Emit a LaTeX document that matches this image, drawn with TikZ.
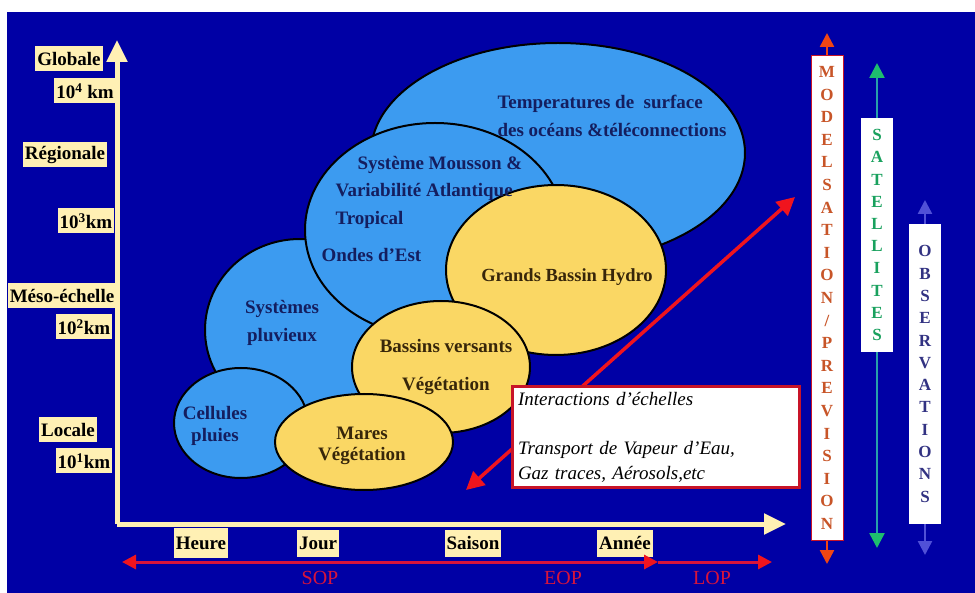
\documentclass[tikz,border=0pt]{standalone}
\usepackage{fontspec}
\setmainfont{Liberation Serif}
\usepackage{xcolor}
\usepackage{tikz}
\usetikzlibrary{arrows.meta, positioning}

\definecolor{nightblue}{RGB}{0,0,165}
\definecolor{cream}{RGB}{255,240,180}
\definecolor{zoneblue}{RGB}{60,155,240}
\definecolor{zonesand}{RGB}{250,215,100}
\definecolor{skyink}{RGB}{20,30,95}
\definecolor{sandink}{RGB}{55,38,10}
\definecolor{hotred}{RGB}{240,20,30}
\definecolor{phasered}{RGB}{215,20,60}
\definecolor{boxred}{RGB}{200,20,40}
\definecolor{modelred}{RGB}{240,70,20}
\definecolor{modelink}{RGB}{200,85,40}
\definecolor{satgreen}{RGB}{30,190,110}
\definecolor{satline}{RGB}{40,160,170}
\definecolor{obsblue}{RGB}{80,80,215}
\definecolor{obsink}{RGB}{50,50,130}

\begin{document}
\begin{tikzpicture}[x=1pt, y=-1pt,
    scalelbl/.style={fill=cream, text=black, inner sep=2pt, minimum height=25pt,
        font=\bfseries\fontsize{19}{22}\selectfont},
    skyzone/.style={fill=zoneblue, draw=black, line width=2pt},
    sandzone/.style={fill=zonesand, draw=black, line width=2pt},
    skytext/.style={text=skyink, font=\bfseries\fontsize{19}{27.5}\selectfont},
    sandtext/.style={text=sandink, font=\bfseries\fontsize{19}{21}\selectfont},
    axisline/.style={draw=cream, line width=5pt, line join=miter,
        -{Triangle[width=20pt,length=22pt]}},
    phase/.style={draw=phasered, line width=3pt, -{Triangle[width=14pt,length=14pt,color=hotred]}},
    phaselbl/.style={text=phasered, font=\fontsize{20}{22}\selectfont},
    colbox/.style={fill=white, inner sep=0pt, minimum width=32pt, align=center,
        font=\bfseries\fontsize{17}{22.6}\selectfont}]

    % Background
    \useasboundingbox (0,0) rectangle (975,593);
    \fill[white] (0,0) rectangle (975,593);
    \fill[nightblue] (7,12) rectangle (975,593);

    % Scale zones
    \filldraw[skyzone] (558,153) ellipse [x radius=187pt, y radius=110pt];
    \filldraw[skyzone] (300,330) ellipse [x radius=95pt, y radius=91pt];
    \filldraw[skyzone] (435,230) ellipse [x radius=130pt, y radius=107pt];
    \filldraw[sandzone] (556,270) ellipse [x radius=110pt, y radius=85pt];
    \filldraw[sandzone] (441,367) ellipse [x radius=89pt, y radius=66pt];
    \filldraw[skyzone] (241,423) ellipse [x radius=67pt, y radius=55pt];
    \filldraw[sandzone] (364,442) ellipse [x radius=89pt, y radius=48pt];

    % Zone labels
    \node[skytext, align=left, anchor=west] (oceans) at (494,116)
        {Temperatures de\ \ surface\\des océans \&téléconnections};
    \node[skytext, align=left, anchor=west] (mousson) at (332,192)
        {\hspace*{22pt}Système Mousson \&\\Variabilité Atlantique\\Tropical};
    \node[skytext, anchor=west] (ondes) at (318,255) {Ondes d'Est};
    \node[sandtext, font=\bfseries\fontsize{18.5}{21}\selectfont] (hydro) at (567,277) {Grands Bassin Hydro};
    \node[skytext, align=center] (pluvieux) at (282,323) {Systèmes\\pluvieux};
    \node[sandtext, align=center, font=\bfseries\fontsize{19}{38}\selectfont] (versants) at (446,367)
        {Bassins versants\\Végétation};
    \node[skytext, align=center, font=\bfseries\fontsize{19}{22}\selectfont] (cellules) at (215,426)
        {Cellules\\pluies};
    \node[sandtext, align=center] (mares) at (362,446) {Mares\\Végétation};

    % Interaction arrow and note
    \coordinate (small) at (466,490);
    \coordinate (large) at (795,197);
    \draw[hotred, line width=3.5pt, {Triangle[width=18pt,length=18pt]}-{Triangle[width=18pt,length=18pt]}]
        (small) -- (large);
    \node[fill=white, draw=boxred, line width=3pt, minimum width=287pt, minimum height=101pt,
        text width=276pt, align=left, font=\itshape\fontsize{19}{25}\selectfont] (note) at (656,437)
        {Interactions d'échelles\\[24pt]Transport de Vapeur d'Eau,\\Gaz traces, Aérosols,etc};

    % Axes
    \coordinate (O) at (117,524);
    \coordinate (ytip) at (117,40);
    \coordinate (xtip) at (786,524);
    \draw[axisline] (O) -- (ytip);
    \draw[axisline] (O) -- (xtip);

    % Space scale labels
    \node[scalelbl] (globale) at (69,59) {Globale};
    \node[scalelbl] (km4) at (85,91) {10\textsuperscript{4} km};
    \node[scalelbl] (regionale) at (65,155) {Régionale};
    \node[scalelbl] (km3) at (86,221) {10\textsuperscript{3}km};
    \node[scalelbl] (meso) at (62,296) {Méso-échelle};
    \node[scalelbl] (km2) at (84,327) {10\textsuperscript{2}km};
    \node[scalelbl] (locale) at (68,430) {Locale};
    \node[scalelbl] (km1) at (84,461) {10\textsuperscript{1}km};

    % Time scale labels
    \node[scalelbl, minimum height=30pt] (heure) at (201,543) {Heure};
    \node[scalelbl, minimum height=27pt] (jour) at (318,543) {Jour};
    \node[scalelbl, minimum height=27pt] (saison) at (473,543) {Saison};
    \node[scalelbl, minimum height=27pt] (annee) at (625,543) {Année};

    % Observation periods
    \coordinate (t0) at (122,562);
    \coordinate (t1) at (521,562);
    \coordinate (t2) at (658,562);
    \coordinate (t3) at (772,562);
    \draw[phase, {Triangle[width=14pt,length=14pt,color=hotred]}-] (t0) -- (t1);
    \draw[phase] (t1) -- (t2);
    \draw[phase] (t2) -- (t3);
    \node[phaselbl] (sop) at (320,578) {SOP};
    \node[phaselbl] (eop) at (563,578) {EOP};
    \node[phaselbl] (lop) at (712,578) {LOP};

    % Modelling, satellites, observations
    \coordinate (mtop) at (827,33);
    \coordinate (mbot) at (827,564);
    \draw[modelred, line width=2.5pt, {Triangle[width=14pt,length=14pt]}-{Triangle[width=14pt,length=14pt]}]
        (mtop) -- (mbot);
    \node[colbox, draw=boxred, line width=1pt, minimum height=485pt, text=modelink] (model) at (827,298)
        {M\\O\\D\\E\\L\\S\\A\\T\\I\\O\\N\\/\\P\\R\\E\\V\\I\\S\\I\\O\\N};

    \coordinate (stop) at (877,63);
    \coordinate (sbot) at (877,548);
    \draw[satline, line width=2.5pt, {Triangle[width=15pt,length=15pt,color=satgreen]}-{Triangle[width=15pt,length=15pt,color=satgreen]}]
        (stop) -- (sbot);
    \node[colbox, minimum height=234pt, text=satgreen!85!black, font=\bfseries\fontsize{17}{22.2}\selectfont] (sat) at (877,235)
        {S\\A\\T\\E\\L\\L\\I\\T\\E\\S};

    \coordinate (otop) at (925,200);
    \coordinate (obot) at (925,555);
    \draw[obsblue, line width=2.5pt, {Triangle[width=14pt,length=14pt]}-{Triangle[width=14pt,length=14pt]}]
        (otop) -- (obot);
    \node[colbox, minimum height=299pt, text=obsink, font=\bfseries\fontsize{17}{22.3}\selectfont] (obs) at (925,374)
        {O\\B\\S\\E\\R\\V\\A\\T\\I\\O\\N\\S};
\end{tikzpicture}
\end{document}
